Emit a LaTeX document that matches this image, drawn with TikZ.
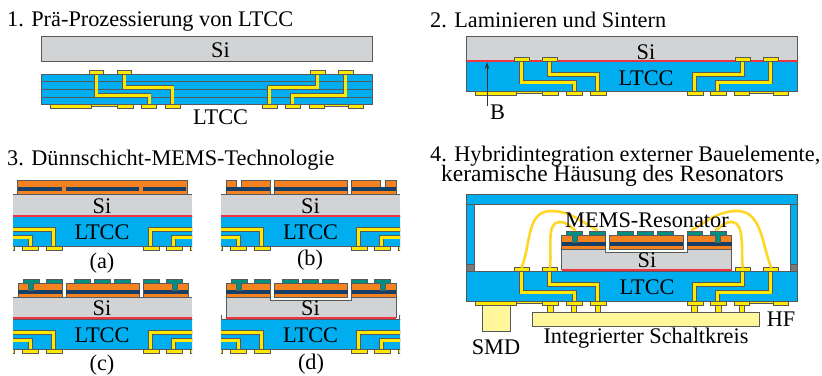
\documentclass[tikz,border=0pt]{standalone}
\usepackage{fontspec}
\setmainfont{Liberation Serif}
\usetikzlibrary{arrows.meta}
\definecolor{cblue}{HTML}{00AEEF}
\definecolor{cgrey}{HTML}{D1D3D4}
\definecolor{cline}{HTML}{58595B}
\definecolor{cred}{HTML}{EF3340}
\definecolor{cyel}{HTML}{FFE800}
\definecolor{cwire}{HTML}{FFD726}
\definecolor{corange}{HTML}{F58220}
\definecolor{cnavy}{HTML}{153F66}
\definecolor{cteal}{HTML}{008F82}
\definecolor{cpale}{HTML}{FFF799}
\tikzset{
  x=1pt,y=-1pt,
  outl/.style={draw=cline,line width=0.9pt},
  sibox/.style={fill=cgrey,outl},
  ltccbox/.style={fill=cblue,outl},
  pad/.style={fill=cyel,outl},
  orangebox/.style={fill=corange,outl},
  tealbox/.style={fill=cteal,outl},
  palebox/.style={fill=cpale,outl},
  pipeout/.style={draw=cline,line width=4.6pt,line join=miter},
  pipein/.style={draw=cyel,line width=3pt,line join=miter},
  redline/.style={draw=cred,line width=2.4pt},
  bond/.style={draw=cwire,line width=2.6pt,line cap=round},
  lbl/.style={font=\fontsize{22.3}{24}\selectfont,inner sep=0pt},
  head/.style={lbl,anchor=base west}
}
\newcommand{\pipepaths}[1]{%
  \draw[#1] (96,74) -- (96,95) -- (149,95) -- (149,104.5);
  \draw[#1] (124,74) -- (124,87.5) -- (172,87.5) -- (172,104.5);
  \draw[#1] (317,74) -- (317,87.5) -- (269,87.5) -- (269,104.5);
  \draw[#1] (345,74) -- (345,95) -- (292,95) -- (292,104.5);
}
% LTCC wiring, in the coordinates of panel 1
\newcommand{\ltccwires}{%
  \pipepaths{pipeout}
  \pipepaths{pipein}
  \foreach \a/\b in {89/103.5,117/131.5,310/325,338/353}{
    \draw[pad] (\a,70.5) rectangle (\b,74);
  }
  \foreach \a/\b in {91/117,324/348}{
    \draw[pad] (\a,104.5) rectangle (\b,106.5);
  }
  \foreach \a/\b in {50/91,117/133,141/156.5,165/180.5,262/277.5,285/300.5,309/324,348/363}{
    \draw[pad] (\a,104.5) rectangle (\b,108);
  }
}
\newcommand{\ltccbody}{\draw[ltccbox] (41,74) rectangle (372,104);}
% the part of the substrate seen in panel 3, local frame is that of panel 1
\newcommand{\ltcccut}{%
  \begin{scope}
    \clip (131.5,60) rectangle (310.5,112);
    \ltccbody
    \ltccwires
  \end{scope}
}
% layer stack, local frame: Si surface at y=0
\newcommand{\navyseg}[2]{\fill[cnavy] (#1,-7) rectangle (#2,-3);}
\newcommand{\stackbox}[2]{\draw[orangebox] (#1,-13.5) rectangle (#2,0); \navyseg{#1}{#2}}
\newcommand{\threestacks}{\stackbox{18}{62}\stackbox{66}{139.5}\stackbox{143.5}{188}}
\newcommand{\notch}[2]{%
  \fill[white] (#1,-14.2) rectangle (#2,-7);
  \draw[cline,line width=0.9pt] (#1,-14) -- (#1,-7) (#2,-14) -- (#2,-7);}
\newcommand{\tealstem}[2]{\draw[tealbox] (#1,-7) rectangle (#2,-14);}
\newcommand{\tealtop}{%
  \tealstem{28.5}{33.5}\tealstem{172}{177}
  \foreach \a/\b in {23/39,46/62,74/90,94/110,114/130,143.5/159,166.5/182.5}{
    \draw[tealbox] (\a,-18) rectangle (\b,-13.5);
  }
  \fill[cteal] (29,-14.2) rectangle (33,-12.5);
  \fill[cteal] (172.5,-14.2) rectangle (176.5,-12.5);
}
% Si with the resonator released over a cavity, local frame: Si surface at y=0
\newcommand{\releasedsi}{%
  \draw[sibox] (18,0) -- (62,0) -- (62,3.5) -- (143.5,3.5) -- (143.5,0) -- (188,0) -- (188,20) -- (18,20) -- cycle;
  \draw[redline] (18,21) -- (188,21);
}
\begin{document}
\begin{tikzpicture}
\useasboundingbox (0,0) rectangle (822,375);
\fill[white] (0,0) rectangle (822,375);

% ---------- Panel 1
\node[head] (h1) at (7,26) {1. Prä-Prozessierung von LTCC};
\draw[sibox] (41,36) rectangle (372,61);
\node[lbl] (si1) at (220.5,50) {Si};
\ltccbody
\draw[cline,line width=0.9pt] (41,81.5) -- (372,81.5) (41,89.5) -- (372,89.5) (41,97) -- (372,97);
\ltccwires
\node[lbl] (lt1) at (220.5,117) {LTCC};

% ---------- Panel 2
\node[head] (h2) at (430,27.5) {2. Laminieren und Sintern};
\draw[sibox] (466.5,36) rectangle (797.5,61);
\begin{scope}[shift={(425.5,-13)}]
  \ltccbody
  \draw[redline] (41,74) -- (372,74);
  \ltccwires
\end{scope}
\node[lbl] (si2) at (646,52.5) {Si};
\node[lbl] (lt2) at (646,78) {LTCC};
\node[lbl] (lb) at (497.5,112) {B};
\coordinate (bfoot) at (487,106);
\coordinate (btip) at (487,62);
\draw[-{Stealth[length=7pt,width=4.5pt]},draw=black!80,line width=0.6pt] (bfoot) -- (btip);

% ---------- Panel 3
\node[head] (h3) at (7,165.5) {3. Dünnschicht-MEMS-Technologie};
% (a)
\begin{scope}[shift={(-118.5,142)}]\ltcccut\end{scope}
\begin{scope}[shift={(0,194)}]
  \fill[cgrey] (13,0) rectangle (192,22);
  \draw[cline,line width=0.9pt] (13,0) -- (192,0);
  \draw[redline] (13,22) -- (192,22);
  \draw[orangebox] (17.5,-14) rectangle (187,0);
  \navyseg{18}{62}\navyseg{66}{139}\navyseg{143}{186}
\end{scope}
\node[lbl] (si3a) at (102,206) {Si};
\node[lbl] (lt3a) at (102,232) {LTCC};
\node[lbl] (ca) at (102,263) {(a)};
% (b)
\begin{scope}[shift={(89.5,142)}]\ltcccut\end{scope}
\begin{scope}[shift={(208,194)}]
  \fill[cgrey] (13,0) rectangle (192,22);
  \draw[cline,line width=0.9pt] (13,0) -- (192,0);
  \draw[redline] (13,22) -- (192,22);
  \threestacks
  \notch{28.5}{33.5}\notch{172.5}{177.5}
\end{scope}
\node[lbl] (si3b) at (310.5,206) {Si};
\node[lbl] (lt3b) at (310.5,232) {LTCC};
\node[lbl] (cb) at (310,260) {(b)};
% (c)
\begin{scope}[shift={(-118.5,245)}]\ltcccut\end{scope}
\begin{scope}[shift={(0,297)}]
  \fill[cgrey] (13,0) rectangle (192,21);
  \draw[cline,line width=0.9pt] (13,0) -- (192,0);
  \draw[redline] (13,21) -- (192,21);
  \threestacks
  \tealtop
\end{scope}
\node[lbl] (si3c) at (102,308.5) {Si};
\node[lbl] (lt3c) at (102,335) {LTCC};
\node[lbl] (cc) at (102,365.5) {(c)};
% (d)
\begin{scope}[shift={(89.5,245)}]\ltcccut\end{scope}
\begin{scope}[shift={(208,297)}]
  \releasedsi
  \threestacks
  \tealtop
\end{scope}
\node[lbl] (si3d) at (310.5,308.5) {Si};
\node[lbl] (lt3d) at (310.5,335) {LTCC};
\node[lbl] (cd) at (311,364) {(d)};

% ---------- Panel 4
\node[head] (h4a) at (430,161.5) {4. Hybridintegration externer Bauelemente,};
\node[head,font=\fontsize{23.4}{24}\selectfont] (h4b) at (441,181.7) {keramische Häusung des Resonators};
\draw[ltccbox] (466.7,194.3) rectangle (797.7,204.3);
\draw[ltccbox] (466.7,204.3) rectangle (474,264.3);
\draw[ltccbox] (790,204.3) rectangle (797.7,264.3);
\draw[fill=cline!80,outl] (466.7,264.3) rectangle (474,271);
\draw[fill=cline!80,outl] (790,264.3) rectangle (797.7,271);
% SMD and IC behind the substrate pads
\draw[palebox] (482.7,305) rectangle (510,331.7);
\draw[palebox] (532.7,312) rectangle (759.3,326.3);
\foreach \c in {550.3,574,598,694.7,718.3,742}{
  \draw[pad] (\c-2.8,305) rectangle (\c+2.8,312);
}
\begin{scope}[shift={(425.5,197)}]
  \ltccbody
  \ltccwires
\end{scope}
\begin{scope}[shift={(543.7,249)}]
  \releasedsi
  \threestacks
  \tealtop
\end{scope}
% bond wires
\draw[bond] (521.7,267) .. controls (531,245) and (526,211) .. (551,211) .. controls (570,211) and (582,222) .. (597,230);
\draw[bond] (550,267) .. controls (552,252) and (546,222) .. (559,222) .. controls (568,222) and (568,226) .. (575,230);
\draw[bond] (742.7,267) .. controls (741,252) and (745,222) .. (732,222) .. controls (723,222) and (723,226) .. (716,230);
\draw[bond] (771,267) .. controls (762,245) and (762,211) .. (737,211) .. controls (718,211) and (706,222) .. (691.7,230);
\node[lbl] (mems) at (647,220) {MEMS-Resonator};
\node[lbl] (si4) at (647,260) {Si};
\node[lbl] (lt4) at (647,287) {LTCC};
\node[lbl] (hf) at (781,319) {HF};
\node[lbl] (smd) at (496,347) {SMD};
\node[lbl] (ic) at (646,338) {Integrierter Schaltkreis};
\end{tikzpicture}
\end{document}
